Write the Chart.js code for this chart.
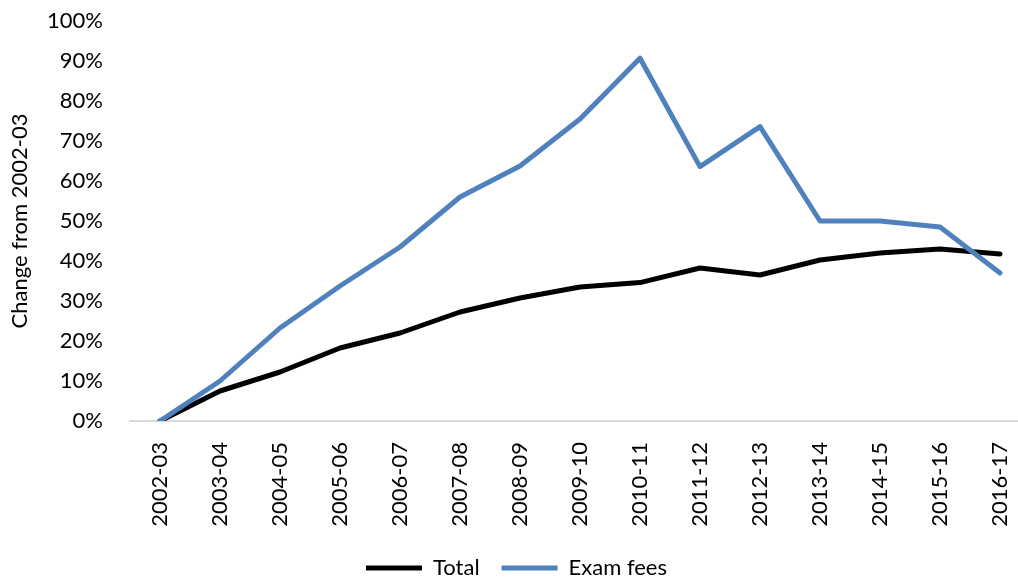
<!DOCTYPE html>
<html>
<head>
<meta charset="utf-8">
<script src="https://cdn.jsdelivr.net/npm/chart.js@4/dist/chart.umd.min.js"></script>
<style>
html,body{margin:0;padding:0;overflow:hidden;background:#fff;}
#wrap{width:1034px;height:578px;}
</style>
</head>
<body>
<div id="wrap"><canvas id="c" width="1034" height="578"></canvas></div>
<script>
const categories = ['2002-03','2003-04','2004-05','2005-06','2006-07','2007-08','2008-09','2009-10','2010-11','2011-12','2012-13','2013-14','2014-15','2015-16','2016-17'];
const totalValues = [0, 7.5, 12.25, 18.25, 22, 27.25, 30.75, 33.5, 34.6, 38.25, 36.5, 40.25, 42, 43, 41.75];
const examFeesValues = [0, 10, 23.25, 33.75, 43.5, 56, 63.75, 75.5, 90.7, 63.6, 73.6, 50, 50, 48.5, 37];
const yTicks = [0,10,20,30,40,50,60,70,80,90,100];

const FONT = 'Lato, Carlito, "Open Sans", sans-serif';
Chart.defaults.font.family = FONT;
Chart.defaults.color = '#000';

new Chart(document.getElementById('c'), {
  type: 'line',
  data: {
    labels: categories,
    datasets: [
      {label: 'Total', data: totalValues, borderColor: '#000000', backgroundColor: '#000000',
       borderWidth: 5, pointRadius: 0, tension: 0, borderJoinStyle: 'round', borderCapStyle: 'round', order: 1},
      {label: 'Exam fees', data: examFeesValues, borderColor: '#4F81BD', backgroundColor: '#4F81BD',
       borderWidth: 5, pointRadius: 0, tension: 0, borderJoinStyle: 'round', borderCapStyle: 'round', order: 0}
    ]
  },
  options: {
    responsive: false,
    animation: false,
    layout: {autoPadding: false, padding: {left: 3, right: 4, top: 21, bottom: -11}},
    plugins: {
      tooltip: {enabled: false},
      legend: {
        position: 'bottom',
        labels: {
          font: {size: 22},
          color: '#000',
          boxWidth: 56,
          boxHeight: 5,
          padding: 22,
          sort: (a, b) => a.datasetIndex - b.datasetIndex,
          generateLabels(chart) {
            const items = Chart.defaults.plugins.legend.labels.generateLabels(chart);
            items.forEach(i => { i.lineWidth = 0; i.fillStyle = i.strokeStyle; });
            return items;
          }
        }
      }
    },
    scales: {
      x: {
        type: 'category',
        offset: true,
        grid: {display: false, drawTicks: false},
        border: {display: true, color: '#d9d9d9', width: 2},
        ticks: {autoSkip: false, minRotation: 90, maxRotation: 90, padding: 21, font: {size: 22}, color: '#000'},
        afterFit(scale) { scale.height = 114; scale.paddingLeft = 0; scale.paddingRight = 0; scale.paddingTop = 0; scale.paddingBottom = 0; }
      },
      y: {
        min: 0, max: 100,
        grid: {display: false, drawTicks: false},
        border: {display: false},
        afterBuildTicks(scale) { scale.ticks = yTicks.map(v => ({value: v})); },
        ticks: {padding: 27, font: {size: 22}, color: '#000', callback: v => v + '%'},
        title: {display: true, text: 'Change from 2002-03', font: {size: 22}, color: '#000', padding: {top: 4, bottom: 0}},
        afterFit(scale) { scale.width = 127; scale.paddingTop = 0; scale.paddingBottom = 0; scale.paddingLeft = 0; scale.paddingRight = 0; }
      }
    }
  }
});
</script>
</body>
</html>
